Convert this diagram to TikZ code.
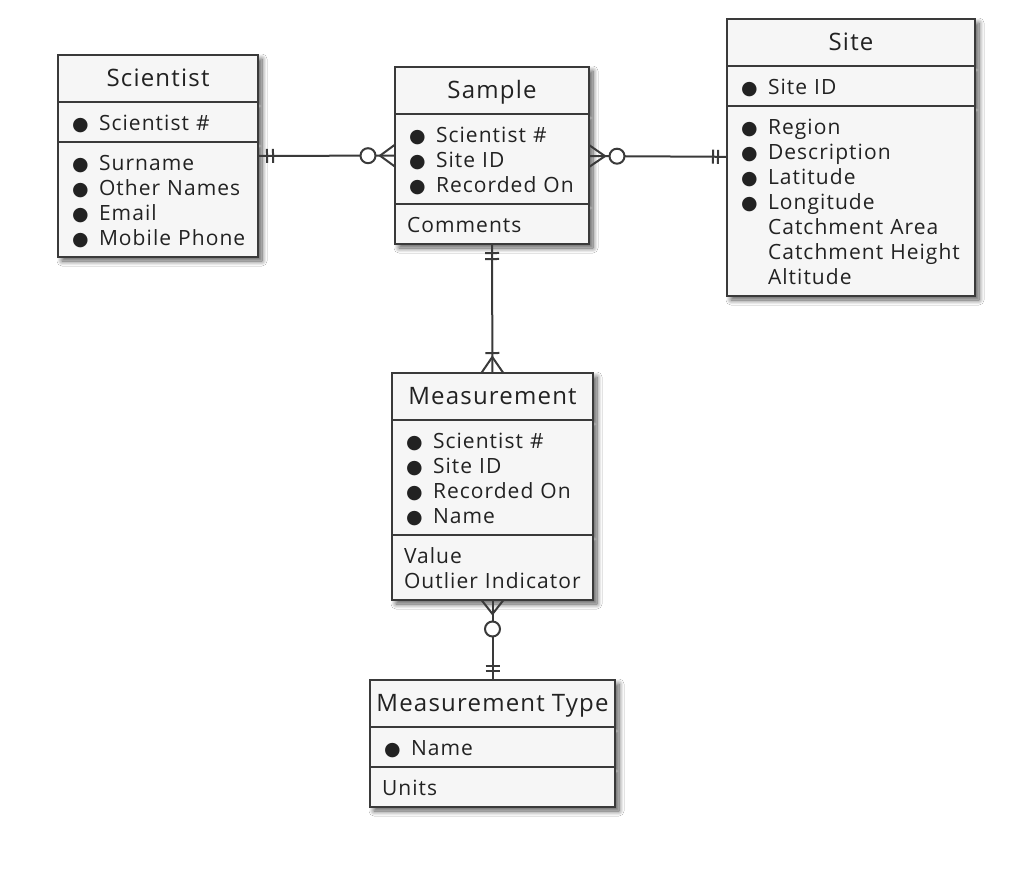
\documentclass[tikz,border=0pt]{standalone}
\usepackage{fontspec}
\setmainfont{Open Sans}[LetterSpace=5]
\newfontfamily\dotfont{DejaVu Sans}
\usepackage{xcolor}
\usetikzlibrary{shapes.multipart,decorations.markings,shadows.blur}

\definecolor{boxfill}{HTML}{F6F6F6}
\definecolor{boxline}{HTML}{3A3A3A}
\definecolor{ink}{HTML}{222222}

% one line of an entity box
\newcommand{\astrut}{\rule[-4.5pt]{0pt}{25pt}}
\newcommand{\etitle}[1]{\noindent\hbox to\hsize{\hss\fontsize{24}{32}\selectfont\smash{#1}\rule[-8.5pt]{0pt}{32pt}\hss}}
\newcommand{\pk}[1]{\makebox[29pt][l]{\hspace{2pt}{\dotfont\fontsize{19}{19}\selectfont ●}}\smash{#1}\astrut}
\newcommand{\ak}[1]{\smash{#1}\astrut}

\tikzset{
  entity/.style={rectangle split, rectangle split parts=3, draw=boxline,
    line width=2.5pt, fill=boxfill, text=ink, anchor=north west,
    outer sep=0pt, inner xsep=12pt, inner ysep=6.25pt, align=left,
    text width=#1, font=\fontsize{21}{25}\selectfont,
    blur shadow={shadow xshift=4pt, shadow yshift=-4pt, shadow blur radius=5pt,
      shadow blur steps=10, shadow opacity=65}},
  conn/.style={draw=boxline, line width=2pt},
  % end symbols of a relationship
  bar at/.style={postaction={decorate, decoration={markings,
    mark=at position #1 with {\draw[conn] (0,-7pt) -- (0,7pt);}}}},
  ring at/.style={postaction={decorate, decoration={markings,
    mark=at position #1 with {\draw[conn, fill=white] (0,0) circle (7.5pt);}}}},
  foot start/.style={postaction={decorate, decoration={markings,
    mark=at position #1 with {\draw[conn] (-#1,-11pt) -- (0,0) -- (-#1,11pt);}}}},
  foot end/.style={postaction={decorate, decoration={markings,
    mark=at position -#1 with {\draw[conn] (#1,-11pt) -- (0,0) -- (#1,11pt);}}}}
}

\begin{document}
\begin{tikzpicture}[x=1pt, y=-1pt]
    \fill[white] (0,0) rectangle (1024,868);
    \useasboundingbox (0,0) rectangle (1024,868);

    % Entities
    \node[entity=176pt] (scientist) at (58,55) {\etitle{Scientist}
        \nodepart{two}\pk{Scientist \#}
        \nodepart{three}\pk{Surname}\\ \pk{Other Names}\\ \pk{Email}\\ \pk{Mobile Phone}};

    \node[entity=170pt] (sample) at (395,67) {\etitle{Sample}
        \nodepart{two}\pk{Scientist \#}\\ \pk{Site ID}\\ \pk{Recorded On}
        \nodepart{three}\ak{Comments}};

    \node[entity=224pt] (site) at (727,19) {\etitle{Site}
        \nodepart{two}\pk{Site ID}
        \nodepart{three}\pk{Region}\\ \pk{Description}\\ \pk{Latitude}\\ \pk{Longitude}\\
        \ak{\hspace*{29pt}Catchment Area}\\ \ak{\hspace*{29pt}Catchment Height}\\
        \ak{\hspace*{29pt}Altitude}};

    \node[entity=177pt] (measurement) at (392,373) {\etitle{Measurement}
        \nodepart{two}\pk{Scientist \#}\\ \pk{Site ID}\\ \pk{Recorded On}\\ \pk{Name}
        \nodepart{three}\ak{Value}\\ \ak{Outlier Indicator}};

    \node[entity=221pt] (mtype) at (370,680) {\etitle{Measurement Type}
        \nodepart{two}\pk{Name}
        \nodepart{three}\ak{Units}};

    % Relationships
    \draw[conn, bar at=9pt, bar at=15pt, foot end=15pt, ring at=-27pt]
        (scientist) -- (sample);
    \draw[conn, foot start=16pt, ring at=28pt, bar at=-14pt, bar at=-9pt]
        (sample) -- (site);
    \draw[conn, bar at=9pt, bar at=15pt, bar at=-20pt, foot end=16pt]
        (sample) -- (measurement);
    \draw[conn, foot start=14pt, ring at=29pt, bar at=-14pt, bar at=-9pt]
        (measurement) -- (mtype);
\end{tikzpicture}
\end{document}
